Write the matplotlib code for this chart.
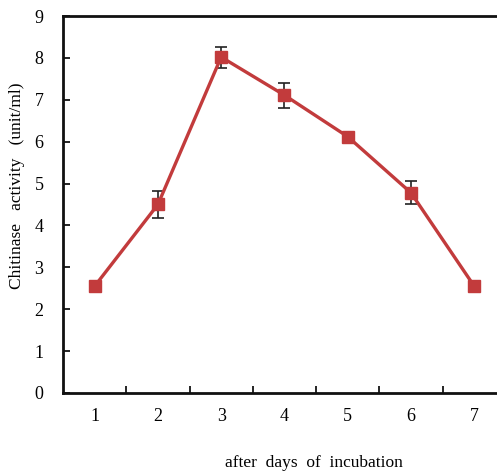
import matplotlib
matplotlib.use("Agg")
import matplotlib.pyplot as plt

days = [1, 2, 3, 4, 5, 6, 7]
activity = [2.55, 4.50, 8.02, 7.11, 6.12, 4.78, 2.55]
err = [0.0, 0.33, 0.25, 0.30, 0.04, 0.27, 0.0]

plt.rcParams['font.family'] = ['Liberation Serif', 'DejaVu Serif']

fig = plt.figure(figsize=(4.97, 4.72), dpi=100)
ax = fig.add_axes([0.1268, 0.1674, 0.891, 0.7987])

red = '#C23B3C'
ax.errorbar(days, activity, yerr=err, color=red, lw=2.4, marker='s', ms=9,
            mfc=red, mec=red, ecolor='#222222', elinewidth=1.2, capsize=4,
            capthick=1.2, zorder=3)

ax.set_xlim(0.5, 7.5)
ax.set_ylim(0, 9)
ax.set_yticks(range(0, 10))
ax.set_xticks(days)
ax.set_xticks([1.5, 2.5, 3.5, 4.5, 5.5, 6.5], minor=True)
ax.tick_params(axis='x', which='major', length=0, pad=11, labelsize=13)
ax.tick_params(axis='x', which='minor', length=5, width=1.2, direction='in')
ax.tick_params(axis='y', length=5, width=1.2, direction='in', pad=14, labelsize=13)

for s in ax.spines.values():
    s.set_linewidth(2)
    s.set_color('#111111')

ax.set_xlabel('after  days  of  incubation', fontsize=12.5)
ax.set_ylabel('Chitinase   activity   (unit/ml)', fontsize=12.5)
ax.xaxis.set_label_coords(0.567, -0.164)
ax.yaxis.set_label_coords(-0.086, 0.549)

fig.savefig('out.png', dpi=100)
